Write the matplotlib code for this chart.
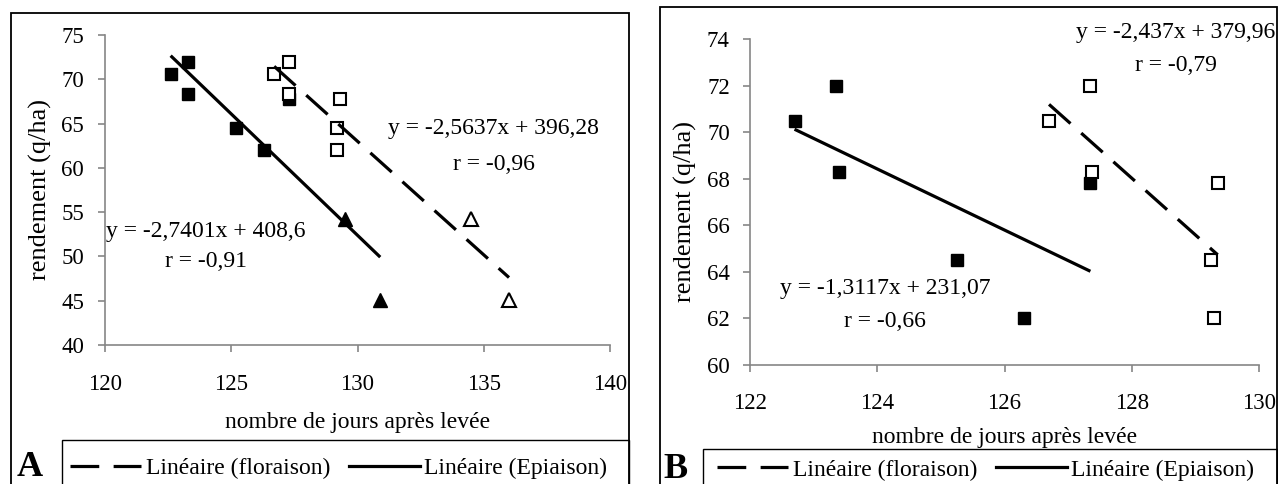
import matplotlib.pyplot as plt
from matplotlib.patches import Rectangle
from matplotlib.lines import Line2D
from matplotlib.transforms import ScaledTranslation

plt.rcParams['font.family'] = ['Liberation Serif', 'DejaVu Serif']

# ---- data : panel A (squares = 2 years, triangles = other year) ----
A_epi_sq_x = [122.6, 123.3, 123.3, 125.2, 126.3, 127.3]
A_epi_sq_y = [70.6, 72.0, 68.3, 64.5, 62.0, 67.8]
A_epi_tr_x = [129.5, 130.9]
A_epi_tr_y = [54.2, 45.1]
A_flo_sq_x = [126.7, 127.3, 127.3, 129.3, 129.2, 129.2]
A_flo_sq_y = [70.6, 72.0, 68.3, 67.8, 64.5, 62.0]
A_flo_tr_x = [134.5, 136.0]
A_flo_tr_y = [54.2, 45.1]

# ---- data : panel B ----
B_epi_x = [122.7, 123.35, 123.4, 125.25, 126.3, 127.35]
B_epi_y = [70.5, 72.0, 68.3, 64.5, 62.0, 67.8]
B_flo_x = [126.7, 127.35, 127.37, 129.25, 129.3, 129.35]
B_flo_y = [70.5, 72.0, 68.3, 64.5, 62.0, 67.8]

# trend lines (slope, intercept) as printed on the chart
A_flo_fit = (-2.5637, 396.28)
A_epi_fit = (-2.7401, 408.6)
B_flo_fit = (-2.437, 379.96)
B_epi_fit = (-1.3117, 231.07)

A_flo_txt = ["y = -2,5637x + 396,28", "r = -0,96"]
A_epi_txt = ["y = -2,7401x + 408,6", "r = -0,91"]
B_flo_txt = ["y = -2,437x + 379,96", "r = -0,79"]
B_epi_txt = ["y = -1,3117x + 231,07", "r = -0,66"]

xlab = "nombre de jours après levée"
ylab = "rendement (q/ha)"
leg_labels = ["Linéaire (floraison)", "Linéaire (Epiaison)"]

W, H = 1278, 484
FS = 16.5    # tick labels
FT = 17      # other text
GREY = "#868686"
DASH = (9, 4.5)


def fa(l, t, r, b):
    return [l / W, 1 - b / H, (r - l) / W, (b - t) / H]


def fx(x):
    return x / W


def fy(y):
    return 1 - y / H


def trend(ax, xs, fit, **kw):
    x0, x1 = min(xs), max(xs)
    ax.plot([x0, x1], [fit[0] * x0 + fit[1], fit[0] * x1 + fit[1]],
            color="black", lw=2.3, zorder=5, solid_capstyle="butt", **kw)


def style(ax, xpad, ypad):
    for s in ["top", "right"]:
        ax.spines[s].set_visible(False)
    for s in ["left", "bottom"]:
        ax.spines[s].set_color(GREY)
        ax.spines[s].set_linewidth(1.2)
    ax.tick_params(direction="out", length=5, width=1.2, color=GREY,
                   labelsize=FS)
    ax.tick_params(axis="x", pad=xpad)
    ax.tick_params(axis="y", pad=ypad)


fig = plt.figure(figsize=(12.78, 4.84), dpi=100)

# ---------------- panel A ----------------
axA = fig.add_axes(fa(105, 35, 610, 345))
axA.plot(A_epi_sq_x, A_epi_sq_y, "s", color="black", ms=8.5, zorder=3)
axA.plot(A_epi_tr_x, A_epi_tr_y, "^", color="black", ms=9.5, zorder=3)
axA.plot(A_flo_sq_x, A_flo_sq_y, "s", mfc="white", mec="black", mew=1.5, ms=8.5, zorder=4)
axA.plot(A_flo_tr_x, A_flo_tr_y, "^", mfc="white", mec="black", mew=1.5, ms=9.5, zorder=4)
trend(axA, A_flo_sq_x + A_flo_tr_x, A_flo_fit, dashes=DASH)
trend(axA, A_epi_sq_x + A_epi_tr_x, A_epi_fit)
axA.set_xlim(120, 140)
axA.set_ylim(40, 75)
axA.set_xticks(range(120, 141, 5))
axA.set_yticks(range(40, 76, 5))
style(axA, 16, 10)
# last label squeezed against the frame, as in the original
lab = axA.get_xticklabels()[-1]
lab.set_ha("right")
lab.set_transform(lab.get_transform() + ScaledTranslation(0.17, 0, fig.dpi_scale_trans))
axA.set_xlabel(xlab, fontsize=FT, va="center")
axA.xaxis.set_label_coords(0.5, -0.25)
axA.set_ylabel(ylab, fontsize=19, va="center")
axA.yaxis.set_label_coords(-0.127, 0.5)
axA.text(135.4, 64.4, A_flo_txt[0], fontsize=FT, ha="center", va="center")
axA.text(135.4, 60.4, A_flo_txt[1], fontsize=FT, ha="center", va="center")
axA.text(124.0, 52.8, A_epi_txt[0], fontsize=FT, ha="center", va="center")
axA.text(124.0, 49.4, A_epi_txt[1], fontsize=FT, ha="center", va="center")

# ---------------- panel B ----------------
axB = fig.add_axes(fa(750, 39, 1259, 365))
axB.plot(B_epi_x, B_epi_y, "s", color="black", ms=8.5, zorder=3)
axB.plot(B_flo_x, B_flo_y, "s", mfc="white", mec="black", mew=1.5, ms=8.5, zorder=4)
trend(axB, B_flo_x, B_flo_fit, dashes=DASH)
trend(axB, B_epi_x, B_epi_fit)
axB.set_xlim(122, 130)
axB.set_ylim(60, 74)
axB.set_xticks(range(122, 131, 2))
axB.set_yticks(range(60, 75, 2))
style(axB, 15, 9.5)
axB.set_xlabel(xlab, fontsize=FT, va="center")
axB.xaxis.set_label_coords(0.5, -0.221)
axB.set_ylabel(ylab, fontsize=19, va="center")
axB.yaxis.set_label_coords(-0.126, 0.47)
axB.text(128.69, 74.26, B_flo_txt[0], fontsize=FT, ha="center", va="center")
axB.text(128.69, 72.87, B_flo_txt[1], fontsize=FT, ha="center", va="center")
axB.text(124.12, 63.3, B_epi_txt[0], fontsize=FT, ha="center", va="center")
axB.text(124.12, 61.87, B_epi_txt[1], fontsize=FT, ha="center", va="center")

# ---------------- frames, legends, panel letters ----------------
for (l, t, r) in [(11, 13, 629), (660, 7, 1277)]:
    fig.add_artist(Rectangle((fx(l), fy(H + 20)), fx(r - l), (H + 20 - t) / H,
                             transform=fig.transFigure, fill=False, ec="black", lw=1.3))
for (l, t, r) in [(62, 440, 629), (703, 449, 1277)]:
    fig.add_artist(Rectangle((fx(l), fy(H + 20)), fx(r - l), (H + 20 - t) / H,
                             transform=fig.transFigure, fill=False, ec="black", lw=1.0))

handles = [Line2D([], [], color="black", lw=2.3, dashes=DASH),
           Line2D([], [], color="black", lw=2.3)]
for (x0, yc) in [(70, 468), (717, 470)]:
    fig.legend(handles, leg_labels, loc="center left", bbox_to_anchor=(fx(x0), fy(yc)),
               ncol=2, frameon=False, fontsize=FT, borderpad=0, borderaxespad=0,
               handlelength=3.0, handletextpad=0.2, columnspacing=0.8)

fig.text(fx(30), fy(468), "A", fontsize=26, fontweight="bold", ha="center", va="center")
fig.text(fx(676), fy(470), "B", fontsize=26, fontweight="bold", ha="center", va="center")

fig.savefig("out.png", dpi=100)
